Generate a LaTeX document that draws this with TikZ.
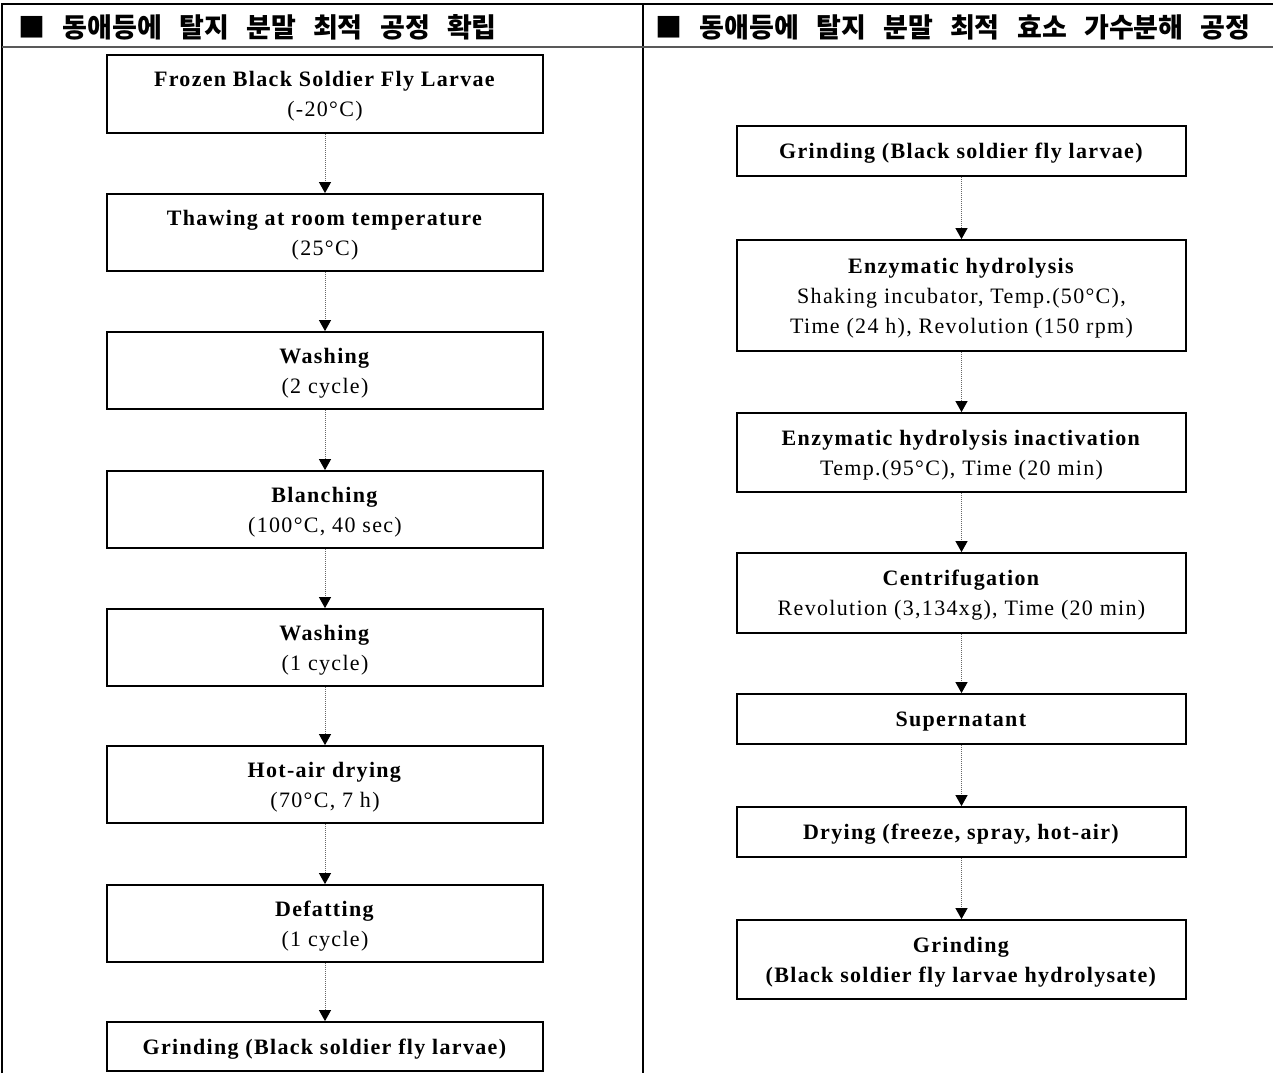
\documentclass[tikz,border=0pt]{standalone}
\usepackage{fontspec}
\setmainfont{Liberation Serif}[LetterSpace=6]
\newfontfamily\kr{Noto Sans CJK KR}[WordSpace=2.8]
\usetikzlibrary{arrows.meta}
\tikzset{
  txt/.style={align=center, inner sep=0pt,
    font=\fontsize{22}{30}\selectfont},
  stepbox/.style={draw, line width=1.8pt, inner sep=0pt},
  flow/.style={densely dotted, gray!80!black, line width=1pt,
    -{Triangle[width=12pt,length=11pt,color=black]}},
  grid/.style={line width=1.5pt},
  hdr/.style={anchor=west, inner sep=0pt, font=\kr\bfseries\fontsize{27}{27}\selectfont}
}
% name, width, height, centre, text
\newcommand{\stepnode}[5]{%
  \node[stepbox, minimum width=#2, minimum height=#3] (#1) at (#4) {};
  \node[txt] (#1-t) at ([yshift=-2.5pt]#1.center) {#5};}
\begin{document}
\begin{tikzpicture}[x=1pt,y=-1pt]
\useasboundingbox (0,0) rectangle (1273,1073);
% table frame
\draw[grid] (2,1073) -- (2,4) -- (1273,4);
\draw[grid] (643,4) -- (643,1073);
\draw[line width=2pt, gray!70!black] (2,47) -- (1273,47);
\node[hdr] (h1) at (18,27) {■ 동애등에 탈지 분말 최적 공정 확립};
\node[hdr] (h2) at (655,27) {■ 동애등에 탈지 분말 최적 효소 가수분해 공정};
% left column
\stepnode{l1}{436pt}{78pt}{325,94}{\textbf{Frozen Black Soldier Fly Larvae}\\(-20°C)}
\stepnode{l2}{436pt}{77pt}{325,232.5}{\textbf{Thawing at room temperature}\\(25°C)}
\stepnode{l3}{436pt}{77pt}{325,370.5}{\textbf{Washing}\\(2 cycle)}
\stepnode{l4}{436pt}{77pt}{325,509.5}{\textbf{Blanching}\\(100°C, 40 sec)}
\stepnode{l5}{436pt}{77pt}{325,647.5}{\textbf{Washing}\\(1 cycle)}
\stepnode{l6}{436pt}{77pt}{325,784.5}{\textbf{Hot-air drying}\\(70°C, 7 h)}
\stepnode{l7}{436pt}{77pt}{325,923.5}{\textbf{Defatting}\\(1 cycle)}
\stepnode{l8}{436pt}{49pt}{325,1046.5}{\textbf{Grinding (Black soldier fly larvae)}}
\foreach \a/\b in {l1/l2,l2/l3,l3/l4,l4/l5,l5/l6,l6/l7,l7/l8}
  \draw[flow] (\a.south) -- (\b.north);
% right column
\stepnode{r1}{449pt}{50pt}{961.5,151}{\textbf{Grinding (Black soldier fly larvae)}}
\stepnode{r2}{449pt}{111pt}{961.5,295.5}{\textbf{Enzymatic hydrolysis}\\Shaking incubator, Temp.(50°C),\\Time (24 h), Revolution (150 rpm)}
\stepnode{r3}{449pt}{79pt}{961.5,452.5}{\textbf{Enzymatic hydrolysis inactivation}\\Temp.(95°C), Time (20 min)}
\stepnode{r4}{449pt}{80pt}{961.5,593}{\textbf{Centrifugation}\\Revolution (3,134xg), Time (20 min)}
\stepnode{r5}{449pt}{50pt}{961.5,719}{\textbf{Supernatant}}
\stepnode{r6}{449pt}{50pt}{961.5,832}{\textbf{Drying (freeze, spray, hot-air)}}
\stepnode{r7}{449pt}{79pt}{961.5,959.5}{\textbf{Grinding}\\\textbf{(Black soldier fly larvae hydrolysate)}}
\foreach \a/\b in {r1/r2,r2/r3,r3/r4,r4/r5,r5/r6,r6/r7}
  \draw[flow] (\a.south) -- (\b.north);
\end{tikzpicture}
\end{document}
